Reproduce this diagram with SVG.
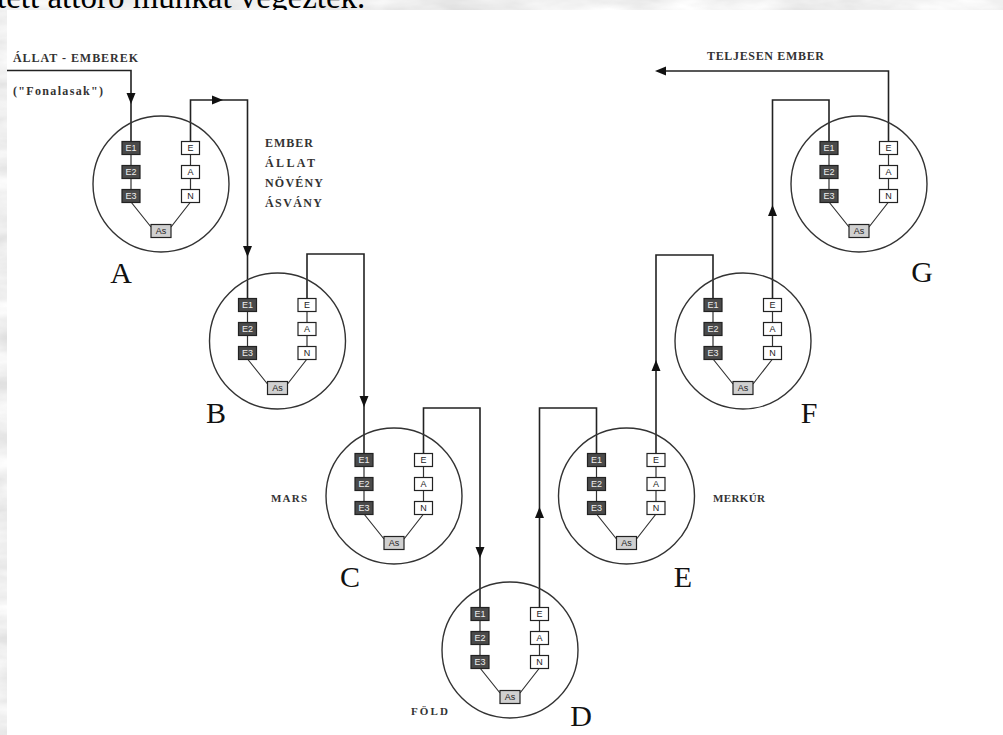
<svg xmlns="http://www.w3.org/2000/svg" xmlns:xlink="http://www.w3.org/1999/xlink" width="1003" height="735" viewBox="0 0 1003 735">
<style>
.ring{fill:none;stroke:#333;stroke-width:1.4}
.wire{fill:none;stroke:#222;stroke-width:1.6}
.thin{fill:none;stroke:#333;stroke-width:1.2}
.dk{fill:#4a4a4a;stroke:#222;stroke-width:1.2}
.lt{fill:#fff;stroke:#222;stroke-width:1.2}
.as{fill:#d0d0d0;stroke:#222;stroke-width:1.2}
.bt{font-family:"Liberation Sans",Arial,sans-serif;font-size:9px;text-anchor:middle}
.bw{fill:#eee}
.bb{fill:#222}
.lab{font-family:"Liberation Serif","Times New Roman",serif;font-weight:bold;font-size:12px;fill:#333}
.sm{font-size:11px}
.big{font-family:"Liberation Serif","Times New Roman",serif;font-size:30px;fill:#111;text-anchor:middle}
.ah{fill:#111}
</style>
<defs>
<filter id="marble" x="0" y="0" width="100%" height="100%">
<feTurbulence type="fractalNoise" baseFrequency="0.012 0.04" numOctaves="4" seed="7"/>
<feColorMatrix type="matrix" values="0.45 0 0 0 0.64  0.45 0 0 0 0.64  0.45 0 0 0 0.64  0 0 0 0 1"/>
</filter>
<path id="ah" d="M0,0 L-4.5,-11 L4.5,-11 Z"/>
<g id="unit">
<circle cx="0" cy="0" r="68" class="ring"/>
<path class="thin" d="M-30,-36 V12 M29.5,-36 V12 M-30,18 L-10,43 M29.5,18 L10,43"/>
<rect x="-39" y="-42.5" width="18" height="13" class="dk"/>
<rect x="-39" y="-18.5" width="18" height="13" class="dk"/>
<rect x="-39" y="5.5" width="18" height="13" class="dk"/>
<rect x="20.5" y="-42.5" width="18" height="13" class="lt"/>
<rect x="20.5" y="-18.5" width="18" height="13" class="lt"/>
<rect x="20.5" y="5.5" width="18" height="13" class="lt"/>
<rect x="-10" y="40.5" width="20" height="13" class="as"/>
<text class="bt bw" x="-30" y="-32.8">E1</text>
<text class="bt bw" x="-30" y="-8.8">E2</text>
<text class="bt bw" x="-30" y="15.2">E3</text>
<text class="bt bb" x="29.5" y="-32.8">E</text>
<text class="bt bb" x="29.5" y="-8.8">A</text>
<text class="bt bb" x="29.5" y="15.2">N</text>
<text class="bt bb" x="0" y="50.2">As</text>
</g>
</defs>
<rect x="0" y="0" width="1003" height="735" fill="#d8d8d8"/>
<rect x="0" y="0" width="1003" height="735" filter="url(#marble)"/>
<text x="-3" y="8" font-family="Liberation Serif,'Times New Roman',serif" font-size="33" fill="#000">tett áttörő munkát végeztek.</text>
<rect x="7" y="10" width="996" height="725" fill="#fff"/>

<g id="connectors">
<path class="wire" d="M7,70.5 H131 V141.5"/>
<path class="wire" d="M190.5,141.5 V100 H247.5 V298.5"/>
<path class="wire" d="M307,298.5 V254 H364 V453.5"/>
<path class="wire" d="M423.5,453.5 V408 H480 V607.5"/>
<path class="wire" d="M539.5,607.5 V408 H596.5 V453.5"/>
<path class="wire" d="M656,453.5 V255 H713 V298.5"/>
<path class="wire" d="M772.5,298.5 V100 H829 V141.5"/>
<path class="wire" d="M888.5,141.5 V71 H660"/>
<use href="#ah" class="ah" x="131" y="104"/>
<use href="#ah" class="ah" transform="translate(223,100) rotate(-90)"/>
<use href="#ah" class="ah" x="247.5" y="257"/>
<use href="#ah" class="ah" x="364" y="407"/>
<use href="#ah" class="ah" x="480" y="558"/>
<use href="#ah" class="ah" transform="translate(539.5,507) rotate(180)"/>
<use href="#ah" class="ah" transform="translate(656,360) rotate(180)"/>
<use href="#ah" class="ah" transform="translate(772.5,205) rotate(180)"/>
<use href="#ah" class="ah" transform="translate(655,71) rotate(90)"/>
</g>

<g id="node-A"><use href="#unit" x="161" y="184"/><text class="big" x="121" y="283">A</text></g>
<g id="node-B"><use href="#unit" x="277.5" y="341"/><text class="big" x="216" y="423">B</text></g>
<g id="node-C"><use href="#unit" x="394" y="496"/><text class="big" x="350" y="587">C</text></g>
<g id="node-D"><use href="#unit" x="510" y="650"/><text class="big" x="581" y="726">D</text></g>
<g id="node-E"><use href="#unit" x="626.5" y="496"/><text class="big" x="683" y="587">E</text></g>
<g id="node-F"><use href="#unit" x="743" y="341"/><text class="big" x="809" y="423">F</text></g>
<g id="node-G"><use href="#unit" x="859" y="184"/><text class="big" x="922" y="282">G</text></g>

<g id="labels">
<text class="lab" x="13" y="62" textLength="125" lengthAdjust="spacing">ÁLLAT - EMBEREK</text>
<text class="lab" x="13" y="95" font-size="13" textLength="90" lengthAdjust="spacing">("Fonalasak")</text>
<text class="lab" x="265" y="147" textLength="48" lengthAdjust="spacing">EMBER</text>
<text class="lab" x="265" y="167" textLength="50" lengthAdjust="spacing">ÁLLAT</text>
<text class="lab" x="265" y="187" textLength="58" lengthAdjust="spacing">NÖVÉNY</text>
<text class="lab" x="265" y="207" textLength="57" lengthAdjust="spacing">ÁSVÁNY</text>
<text class="lab" x="707" y="60" textLength="117" lengthAdjust="spacing">TELJESEN EMBER</text>
<text class="lab sm" x="271" y="502" textLength="36" lengthAdjust="spacing">MARS</text>
<text class="lab sm" x="411" y="715" textLength="37" lengthAdjust="spacing">FÖLD</text>
<text class="lab sm" x="713" y="502" textLength="52" lengthAdjust="spacing">MERKÚR</text>
</g>
</svg>
